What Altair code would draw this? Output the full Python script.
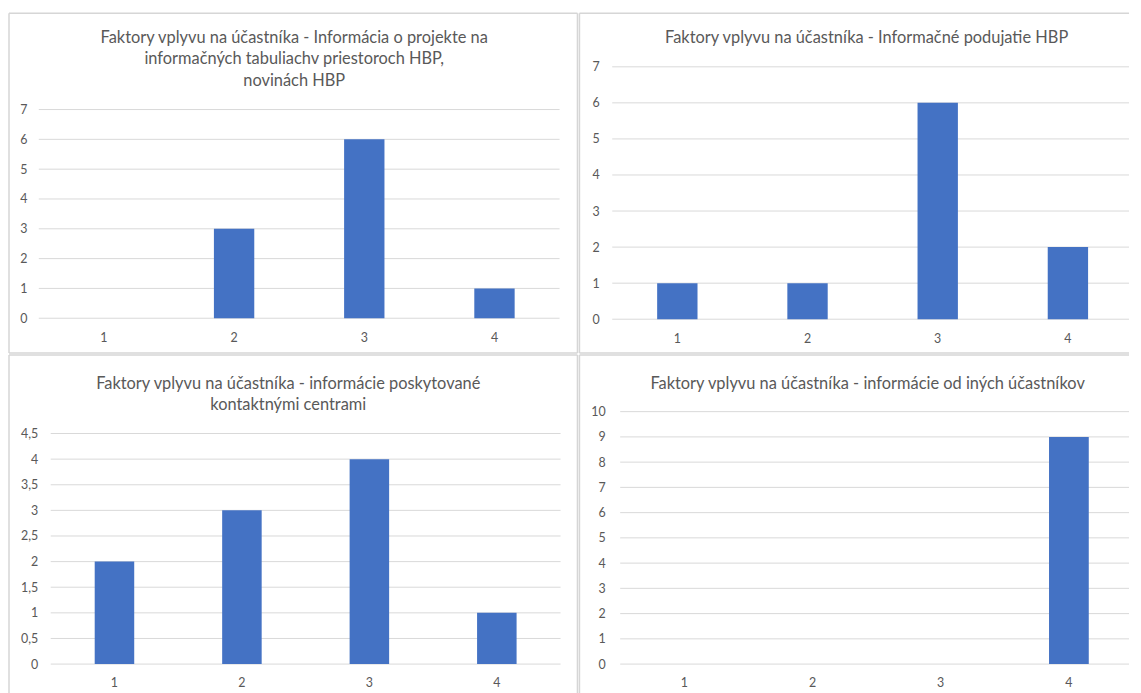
import altair as alt
import pandas as pd

categories = ["1", "2", "3", "4"]
values_1 = [0, 3, 6, 1]
values_2 = [1, 1, 6, 2]
values_3 = [2, 3, 4, 1]
values_4 = [0, 0, 0, 9]

ticks_1 = [0, 1, 2, 3, 4, 5, 6, 7]
ticks_2 = [0, 1, 2, 3, 4, 5, 6, 7]
ticks_3 = [0, 0.5, 1, 1.5, 2, 2.5, 3, 3.5, 4, 4.5]
ticks_4 = [0, 1, 2, 3, 4, 5, 6, 7, 8, 9, 10]

title_1 = ["Faktory vplyvu na účastníka - Informácia o projekte na",
           "informačných tabuliachv priestoroch HBP,",
           "novinách HBP"]
title_2 = ["Faktory vplyvu na účastníka - Informačné podujatie HBP"]
title_3 = ["Faktory vplyvu na účastníka - informácie poskytované",
           "kontaktnými centrami"]
title_4 = ["Faktory vplyvu na účastníka - informácie od iných účastníkov"]

FONT = "Lato"
TXT = "#595959"
GRID = "#d9d9d9"
BORDER = "#d6d6d6"
BAR = "#4472C4"
LINE_H = 21.5


def deco():
    return alt.Chart(alt.Data(values=[{}]))


def panel(vals, ticks, title, w, h, xr, yr, frame, sides, tx, ty, yoff, ypad, grid_x):
    df = pd.DataFrame({"k": categories, "v": vals})
    yscale = alt.Scale(domain=[ticks[0], ticks[-1]], nice=False, zero=True, range=list(yr))
    xscale = alt.Scale(paddingInner=0.69, paddingOuter=0.345, range=list(xr))
    yaxis = alt.Axis(title=None, values=ticks, tickCount=len(ticks), grid=False,
                     domain=False, ticks=False, tickSize=0, labelPadding=ypad,
                     offset=yoff, labelOverlap=False,
                     labelExpr="replace(toString(datum.value), '.', ',')")
    x0, x1, y0, y1 = frame

    # invisible cell box (defines the cell size in the grid)
    box = deco().mark_rect(fillOpacity=0, strokeOpacity=0, fill="white").encode(
        x=alt.value(x0), x2=alt.value(x1), y=alt.value(y0), y2=alt.value(y1))

    layers = [box]
    edge = dict(color=BORDER, strokeWidth=1.5)
    if "t" in sides:
        layers.append(deco().mark_rule(**edge).encode(
            x=alt.value(x0), x2=alt.value(x1), y=alt.value(y0)))
    if "b" in sides:
        layers.append(deco().mark_rule(**edge).encode(
            x=alt.value(x0), x2=alt.value(x1), y=alt.value(y1)))
    if "l" in sides:
        layers.append(deco().mark_rule(**edge).encode(
            x=alt.value(x0), y=alt.value(y0), y2=alt.value(y1)))
    if "r" in sides:
        layers.append(deco().mark_rule(**edge).encode(
            x=alt.value(x1), y=alt.value(y0), y2=alt.value(y1)))

    grid = alt.Chart(pd.DataFrame({"v": ticks})).mark_rule(
        color=GRID, strokeWidth=1
    ).encode(
        y=alt.Y("v:Q", scale=yscale, axis=yaxis),
        x=alt.value(grid_x[0]), x2=alt.value(grid_x[1]),
    )

    bars = alt.Chart(df).mark_bar(color=BAR).encode(
        x=alt.X("k:O", sort=categories, scale=xscale,
                axis=alt.Axis(title=None, labelAngle=0, grid=False, ticks=False,
                              tickSize=0, domain=False, labelPadding=13,
                              labelOverlap=False)),
        y=alt.Y("v:Q", scale=yscale, axis=yaxis),
    )
    layers += [grid, bars]

    for i, line in enumerate(title):
        layers.append(
            deco().mark_text(
                text=line, font=FONT, fontSize=16.5, color=TXT,
                align="center", baseline="middle"
            ).encode(x=alt.value(tx), y=alt.value(ty + i * LINE_H))
        )
    return alt.layer(*layers).properties(width=w, height=h)


# page layout: column 1 view left 38, column 2 view left 613; row 1 view top 64, row 2 view top 409
p1 = panel(values_1, ticks_1, title_1, 524, 253, (0, 524), (253, 43),
           (-30, 542, -54, 288), "tblr", 257, -29, 0, 12, (0, 524))
p2 = panel(values_2, ticks_2, title_2, 518, 254, (0, 524), (254, 0),
           (-33, 520, -54, 288), "tbl", 256, -29, 0, 13, (0, 520))
p3 = panel(values_3, ticks_3, title_3, 525, 254, (12, 525), (254, 22),
           (-30, 542, -57, 291), "tlr", 251, -28, -12, 13, (12, 525))
p4 = panel(values_4, ticks_4, title_4, 518, 254, (8, 524), (254, 0),
           (-33, 520, -57, 291), "tl", 257, -28, -8, 15, (8, 520))

chart = alt.concat(
    p1, p2, p3, p4, columns=2, spacing=0
).properties(
    padding={"top": 2, "left": 0, "right": 0, "bottom": 0}, background="white"
).configure_view(
    strokeWidth=0
).configure_axis(
    labelFont=FONT, labelFontSize=12.5, labelColor=TXT
)

chart.save("out.html", embed_options={"renderer": "svg", "actions": False})
